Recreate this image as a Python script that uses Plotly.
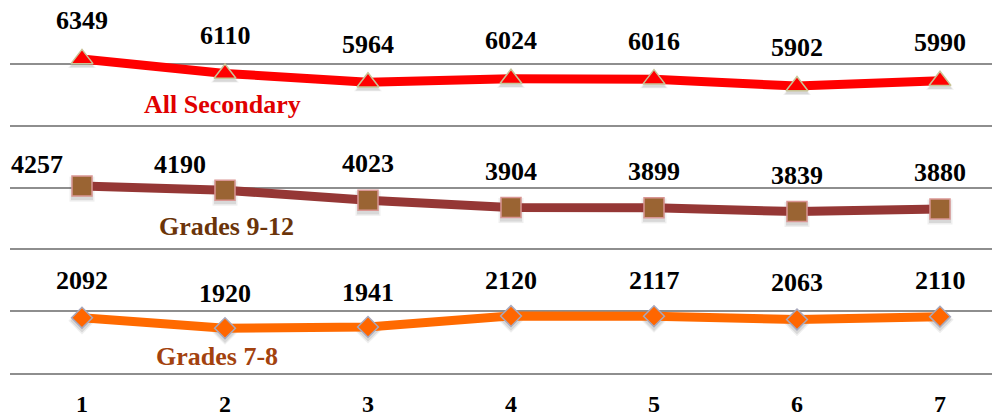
import plotly.graph_objects as go

# ---------------- data ----------------
categories = [1, 2, 3, 4, 5, 6, 7]
all_secondary = [6349, 6110, 5964, 6024, 6016, 5902, 5990]
grades_9_12 = [4257, 4190, 4023, 3904, 3899, 3839, 3880]
grades_7_8 = [2092, 1920, 1941, 2120, 2117, 2063, 2110]
series_names = ["All Secondary", "Grades 9-12", "Grades 7-8"]
tick_labels = ["1", "2", "3", "4", "5", "6", "7"]

# ---------------- style / layout constants ----------------
PAGE_OFF = 8  # default body margin of the page
W, H = 1000 - PAGE_OFF, 417 - PAGE_OFF
M_L, M_R, M_T, M_B = 2, 0, 0, 44
PLOT_W = W - M_L - M_R
PLOT_H = H - M_T - M_B
Y_MIN = 1183
PX_PER_UNIT = 0.0608
Y_MAX = Y_MIN + PLOT_H / PX_PER_UNIT
GRID_STEP = 1016
grid_vals = [Y_MIN + k * GRID_STEP for k in range(6)]
X_MIN = 1 - 72 / 143
X_MAX = 7 + 60 / 143

FONT = "Liberation Serif"
GRID_COLOR = "#8e8e8e"

# label offsets in pixels (manually placed labels in the original)
lab_dy_all = [38, 38, 38, 38, 38, 39, 38]
lab_dx_all = [0, 0, 0, 0, 0, 0, 0]
lab_dy_912 = [22, 26, 37, 36, 36, 36, 37]
lab_dx_912 = [-45, -45, 0, 0, 0, 0, 0]
lab_dy_78 = [37, 35, 34, 36, 36, 37, 36]
lab_dx_78 = [0, 0, 0, 0, 0, 0, 0]

series = [
    dict(name=series_names[0], y=all_secondary, line="#ff0000", symbol="triangle-up",
         size=19, fill="#ff0000", edge="#c8c496", dy=lab_dy_all, dx=lab_dx_all,
         label_color="#e00000", label_px=(222.5, 104)),
    dict(name=series_names[1], y=grades_9_12, line="#953735", symbol="square",
         size=20, fill="#9a6433", edge="#d99694", dy=lab_dy_912, dx=lab_dx_912,
         label_color="#6b3409", label_px=(226.5, 226)),
    dict(name=series_names[2], y=grades_7_8, line="#ff6a00", symbol="diamond",
         size=16, fill="#ff6600", edge="#a8a8bc", dy=lab_dy_78, dx=lab_dx_78,
         label_color="#a3420e", label_px=(216.7, 356)),
]

fig = go.Figure()

SHADOW_PX = 3
for s in series:
    shadow_y = [v - SHADOW_PX / PX_PER_UNIT for v in s["y"]]
    for extra, alpha in ((5, 0.08), (2, 0.12)):
        fig.add_trace(go.Scatter(
            x=categories, y=shadow_y, mode="markers", hoverinfo="skip", showlegend=False,
            marker=dict(symbol=s["symbol"], size=s["size"] + extra,
                        color=f"rgba(50,50,50,{alpha})", line=dict(width=0)),
        ))

for s in series:
    fig.add_trace(go.Scatter(
        x=categories, y=s["y"], mode="lines+markers", name=s["name"], showlegend=False,
        line=dict(color=s["line"], width=9),
        marker=dict(symbol=s["symbol"], size=s["size"], color=s["fill"],
                    line=dict(color=s["edge"], width=1.5)),
    ))

annotations = []
for s in series:
    for xv, yv, dx, dy in zip(categories, s["y"], s["dx"], s["dy"]):
        annotations.append(dict(
            x=xv, y=yv, xref="x", yref="y", text=f"<b>{yv}</b>", showarrow=False,
            xanchor="center", yanchor="middle", xshift=dx, yshift=dy,
            font=dict(family=FONT, size=26, color="black"),
        ))
    px, py = s["label_px"]
    annotations.append(dict(
        x=(px - PAGE_OFF - M_L) / PLOT_W,
        y=(M_T + PLOT_H - (py - PAGE_OFF)) / PLOT_H,
        xref="paper", yref="paper",
        text=f"<b>{s['name']}</b>", showarrow=False, xanchor="center", yanchor="middle",
        font=dict(family=FONT, size=26, color=s["label_color"]),
    ))

fig.update_layout(
    width=W, height=H,
    margin=dict(l=M_L, r=M_R, t=M_T, b=M_B, pad=0),
    paper_bgcolor="white", plot_bgcolor="white",
    showlegend=False,
    annotations=annotations,
    xaxis=dict(
        range=[X_MIN, X_MAX], tickvals=categories,
        ticktext=[f"<b>{t}</b>" for t in tick_labels],
        tickfont=dict(family=FONT, size=24, color="black"),
        showgrid=False, zeroline=False, showline=True, linecolor=GRID_COLOR, linewidth=2,
        ticks="", ticklabelstandoff=8,
    ),
    yaxis=dict(
        range=[Y_MIN, Y_MAX], tickvals=grid_vals, showticklabels=False,
        showgrid=True, gridcolor=GRID_COLOR, gridwidth=2, zeroline=False, showline=False,
    ),
)

fig.write_html("out.html")
